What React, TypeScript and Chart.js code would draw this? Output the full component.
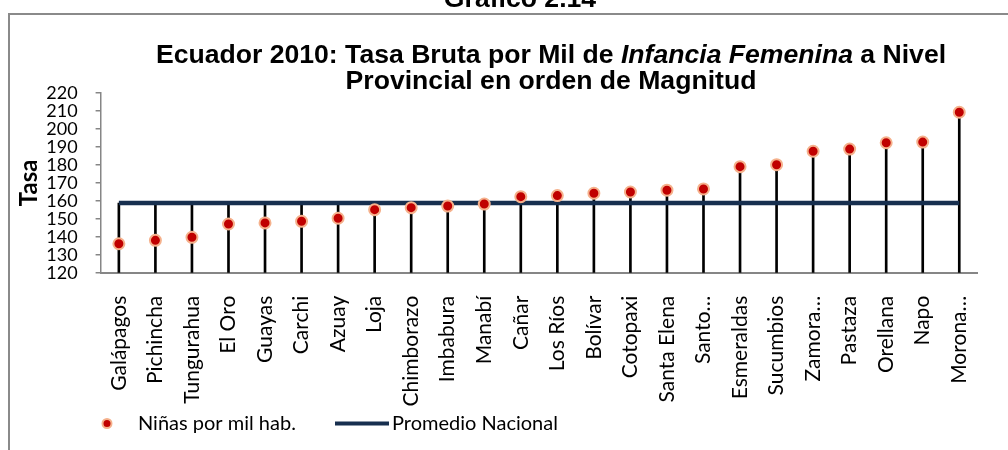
import React, { useEffect, useRef } from "react";
import { Chart, registerables } from "chart.js";

Chart.register(...registerables);

// ---------- data ----------
const provinces = [
  "Galápagos", "Pichincha", "Tungurahua", "El Oro", "Guayas", "Carchi", "Azuay", "Loja",
  "Chimborazo", "Imbabura", "Manabí", "Cañar", "Los Ríos", "Bolívar", "Cotopaxi", "Santa Elena",
  "Santo…", "Esmeraldas", "Sucumbios", "Zamora…", "Pastaza", "Orellana", "Napo", "Morona…",
];
const ninasPorMil = [
  136.1, 138.0, 139.7, 147.1, 147.7, 148.6, 150.3, 155.1,
  156.2, 157.1, 158.2, 162.3, 162.9, 164.2, 164.9, 165.9,
  166.6, 179.0, 180.1, 187.6, 188.8, 192.3, 192.7, 209.3,
];
const promedioNacional = [
  158.8, 158.8, 158.8, 158.8, 158.8, 158.8, 158.8, 158.8,
  158.8, 158.8, 158.8, 158.8, 158.8, 158.8, 158.8, 158.8,
  158.8, 158.8, 158.8, 158.8, 158.8, 158.8, 158.8, 158.8,
];
const yMin = 120;
const yMax = 220;
const yStep = 10;

const seriesNames = ["Niñas por mil hab.", "Promedio Nacional"];
const headerText = "Gráfico 2.14";
const titleLine1 = [
  { text: "Ecuador 2010: Tasa Bruta por Mil de ", italic: false },
  { text: "Infancia Femenina", italic: true },
  { text: " a Nivel", italic: false },
];
const titleLine2 = "Provincial en orden de Magnitud";
const yAxisTitle = "Tasa";

// ---------- styles ----------
const RED = "#C00000";
const HALO = "#F5B18C";
const NAVY = "#172F4F";
const AXIS = "#868686";
const TITLE_FONT = '"Liberation Sans", Arial, sans-serif';
const BODY_FONT = 'Lato, "Noto Sans", sans-serif';
const TITLE_SIZE = 26.6;

const decorPlugin = {
  id: "decor",
  beforeDraw(chart: any) {
    const ctx = chart.ctx;
    ctx.save();
    ctx.strokeStyle = "#8a8a8a";
    ctx.lineWidth = 2;
    ctx.beginPath();
    ctx.moveTo(9, 460);
    ctx.lineTo(9, 14);
    ctx.lineTo(1010, 14);
    ctx.stroke();
    ctx.restore();
  },
  afterDraw(chart: any) {
    const ctx = chart.ctx;
    ctx.save();
    ctx.fillStyle = "#000";
    ctx.textBaseline = "alphabetic";
    ctx.textAlign = "left";
    // header
    ctx.font = `bold ${TITLE_SIZE}px ${TITLE_FONT}`;
    const hw = ctx.measureText(headerText).width;
    ctx.fillText(headerText, 520 - hw / 2, 7);
    // title line 1 with italic part
    const fonts = titleLine1.map((s) =>
      s.italic ? `italic bold ${TITLE_SIZE}px ${TITLE_FONT}` : `bold ${TITLE_SIZE}px ${TITLE_FONT}`
    );
    let total = 0;
    const widths = titleLine1.map((s, i) => {
      ctx.font = fonts[i];
      const w = ctx.measureText(s.text).width;
      total += w;
      return w;
    });
    const cx = 551;
    let x = cx - total / 2;
    titleLine1.forEach((s, i) => {
      ctx.font = fonts[i];
      ctx.fillText(s.text, x, 63);
      x += widths[i];
    });
    ctx.font = `bold ${TITLE_SIZE}px ${TITLE_FONT}`;
    const w2 = ctx.measureText(titleLine2).width;
    ctx.fillText(titleLine2, cx - w2 / 2, 89);

    // legend
    const ly = 423.5;
    ctx.beginPath();
    ctx.arc(107, ly, 4.5, 0, Math.PI * 2);
    ctx.fillStyle = RED;
    ctx.fill();
    ctx.lineWidth = 2;
    ctx.strokeStyle = HALO;
    ctx.stroke();
    ctx.fillStyle = "#000";
    ctx.font = `20px ${BODY_FONT}`;
    ctx.textBaseline = "middle";
    ctx.fillText(seriesNames[0], 138, ly);
    ctx.beginPath();
    ctx.moveTo(335, ly);
    ctx.lineTo(389, ly);
    ctx.lineWidth = 4;
    ctx.strokeStyle = NAVY;
    ctx.stroke();
    ctx.fillText(seriesNames[1], 392, ly);
    ctx.restore();
  },
};

export default function App() {
  const ref = useRef<HTMLCanvasElement | null>(null);

  useEffect(() => {
    if (!ref.current) return;
    const stems = ninasPorMil.map((v, i) => Math.max(v, promedioNacional[i]));
    const chart = new Chart(ref.current, {
      type: "bar",
      data: {
        labels: provinces,
        datasets: [
          {
            type: "line",
            label: seriesNames[0],
            data: ninasPorMil,
            showLine: false,
            pointRadius: 5.5,
            pointHoverRadius: 5.5,
            pointBorderWidth: 2,
            pointBackgroundColor: RED,
            pointBorderColor: HALO,
            order: 1,
          } as any,
          {
            type: "line",
            label: seriesNames[1],
            data: promedioNacional,
            borderColor: NAVY,
            borderWidth: 4.5,
            pointRadius: 0,
            fill: false,
            order: 2,
          } as any,
          {
            type: "bar",
            label: "stems",
            data: stems,
            backgroundColor: "#000",
            barThickness: 2,
            order: 3,
          } as any,
        ],
      },
      options: {
        animation: false,
        responsive: false,
        devicePixelRatio: 1,
        layout: { padding: { left: 8, right: 25.4, top: 93, bottom: 0 } },
        plugins: {
          legend: { display: false },
          title: { display: false },
          tooltip: { enabled: false },
        },
        scales: {
          x: {
            offset: true,
            grid: { display: false, drawTicks: false },
            border: { display: true, color: AXIS, width: 2 },
            ticks: {
              minRotation: 90,
              maxRotation: 90,
              autoSkip: false,
              padding: 23,
              color: "#000",
              font: { family: BODY_FONT, size: 21 },
            },
            afterFit: (scale: any) => {
              scale.height = 450 - 272.7;
            },
          },
          y: {
            min: yMin,
            max: yMax,
            ticks: {
              stepSize: yStep,
              autoSkip: false,
              padding: 18,
              color: "#000",
              font: { family: BODY_FONT, size: 18 },
            },
            grid: {
              display: true,
              drawOnChartArea: false,
              drawTicks: true,
              tickLength: 5,
              color: AXIS,
              lineWidth: 1.5,
            },
            border: { display: true, color: AXIS, width: 1.5 },
            title: {
              display: true,
              text: yAxisTitle,
              color: "#000",
              font: { family: BODY_FONT, size: 24, weight: "bold" },
              padding: { top: 7, bottom: 0 },
            },
            afterFit: (scale: any) => {
              scale.width = 92.6;
            },
          },
        },
      },
      plugins: [decorPlugin],
    });
    return () => chart.destroy();
  }, []);

  return (
    <div style={{ position: "absolute", left: 0, top: 0, width: 1008, height: 450 }}>
      <canvas ref={ref} width={1008} height={450} style={{ display: "block" }} />
    </div>
  );
}
